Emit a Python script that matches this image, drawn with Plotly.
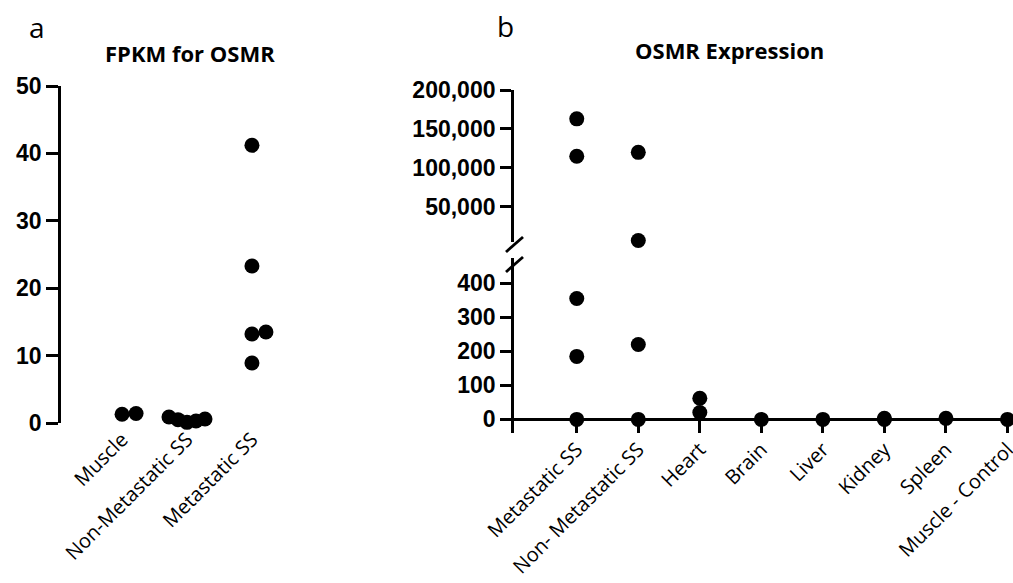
import plotly.graph_objects as go

# ---------------- data ----------------
a_categories = ["Muscle", "Non-Metastatic SS", "Metastatic SS"]
a_muscle = [1.3, 1.4]
a_nonmet = [0.1, 0.3, 0.5, 0.6, 0.9]
a_met = [41.2, 23.3, 13.5, 13.2, 8.9]
a_ticks = [0, 10, 20, 30, 40, 50]

b_categories = ["Metastatic SS", "Non- Metastatic SS", "Heart", "Brain",
                "Liver", "Kidney", "Spleen", "Muscle - Control"]
b_values = [
    [163000, 115000, 355, 185, 0],
    [120000, 7000, 220, 0],
    [62, 20],
    [0],
    [0],
    [3, 0],
    [3],
    [0],
]
b_lower_ticks = [0, 100, 200, 300, 400]
b_upper_ticks = [50000, 100000, 150000, 200000]
b_break = 1000  # values above go to upper segment

# ---------------- helpers ----------------
W, H = 1013, 583


def px(x):
    return x / W


def py(y):
    return 1 - y / H


def swarm(values, ypx_per_unit, xpx_per_unit, d):
    placed = []
    offs = [0.0] * len(values)
    order = sorted(range(len(values)), key=lambda i: values[i])
    cands = [0.0]
    for k in range(1, 200):
        cands += [k * 0.5, -k * 0.5]
    for i in order:
        y = values[i] * ypx_per_unit
        for c in cands:
            if all((c - qx) ** 2 + (y - qy) ** 2 >= d * d for qx, qy in placed):
                placed.append((c, y))
                offs[i] = c / xpx_per_unit
                break
    return offs


BLACK = "black"
TICKFONT = dict(family="Liberation Sans", size=23, color=BLACK, weight="bold")
CATFONT = dict(family="Open Sans", size=20, color=BLACK)
MSIZE = 15

fig = go.Figure()

# ---------------- panel a ----------------
a_y_top, a_y_bot = 86, 423
a_x_left, a_x_right = 61, 300
a_xrange = [-0.94, 2.74]
ypu = (a_y_bot - a_y_top) / 50.0
xpu = (a_x_right - a_x_left) / (a_xrange[1] - a_xrange[0])

for idx, vals in enumerate([a_muscle, a_nonmet, a_met]):
    offs = swarm(vals, ypu, xpu, d=9 if idx == 1 else 14)
    fig.add_trace(go.Scatter(
        x=[idx + o for o in offs], y=vals, mode="markers",
        marker=dict(size=MSIZE, color=BLACK), cliponaxis=False,
        xaxis="x", yaxis="y", showlegend=False, hoverinfo="skip"))

# ---------------- panel b ----------------
for idx, vals in enumerate(b_values):
    lo = [v for v in vals if v < b_break]
    hi = [v for v in vals if v >= b_break]
    if lo:
        fig.add_trace(go.Scatter(
            x=[idx] * len(lo), y=lo, mode="markers",
            marker=dict(size=MSIZE, color=BLACK), cliponaxis=False,
            xaxis="x2", yaxis="y2", showlegend=False, hoverinfo="skip"))
    if hi:
        fig.add_trace(go.Scatter(
            x=[idx] * len(hi), y=hi, mode="markers",
            marker=dict(size=MSIZE, color=BLACK), cliponaxis=False,
            xaxis="x3", yaxis="y3", showlegend=False, hoverinfo="skip"))

b_x_left = 514
b_xrange = [-1.02, 7.09]
lower_top, lower_bot = 258, 433
upper_top, upper_bot = 90, 242

axis_common = dict(showgrid=False, zeroline=False, color=BLACK,
                   automargin=False)
LW = 2.8

fig.update_layout(
    width=W, height=H,
    margin=dict(l=0, r=0, t=0, b=0, autoexpand=False),
    paper_bgcolor="white", plot_bgcolor="white",
    showlegend=False,
    xaxis=dict(
        domain=[px(a_x_left), px(a_x_right)], range=a_xrange,
        anchor="y", showline=False, ticks="",
        tickvals=[0, 1, 2], ticktext=a_categories, tickangle=-45,
        tickfont=CATFONT, ticklabeloverflow="allow", **axis_common),
    yaxis=dict(
        domain=[py(a_y_bot), py(a_y_top)], range=[0, 50],
        anchor="x", showline=True, linewidth=LW, linecolor=BLACK,
        ticks="outside", ticklen=12, tickwidth=LW, tickcolor=BLACK,
        tickvals=a_ticks, tickfont=TICKFONT, **axis_common),
    xaxis2=dict(
        domain=[px(b_x_left), 1.0], range=b_xrange,
        anchor="y2", showline=False, ticks="inside", ticklen=14,
        tickwidth=LW, tickcolor=BLACK,
        tickvals=list(range(len(b_categories))), ticktext=b_categories,
        tickangle=-45, tickfont=CATFONT, ticklabeloverflow="allow",
        **axis_common),
    yaxis2=dict(
        domain=[py(lower_bot), py(lower_top)], range=[-40, 474],
        anchor="x2", showline=True, linewidth=LW, linecolor=BLACK,
        ticks="outside", ticklen=11, tickwidth=LW, tickcolor=BLACK,
        tickvals=b_lower_ticks, tickfont=TICKFONT,
        showgrid=False, zeroline=True, zerolinecolor=BLACK,
        zerolinewidth=LW, color=BLACK, automargin=False),
    xaxis3=dict(
        domain=[px(b_x_left), 1.0], range=b_xrange, anchor="y3",
        visible=False, automargin=False),
    yaxis3=dict(
        domain=[py(upper_bot), py(upper_top)], range=[5000, 200000],
        anchor="x3", showline=True, linewidth=LW, linecolor=BLACK,
        ticks="outside", ticklen=11, tickwidth=LW, tickcolor=BLACK,
        tickvals=b_upper_ticks, tickformat=",d", tickfont=TICKFONT,
        **axis_common),
)

# axis break marks
for (x0, y0, x1, y1) in [(506, 252, 523, 237), (506, 272, 523, 257)]:
    fig.add_shape(type="line", xref="paper", yref="paper",
                  x0=px(x0), y0=py(y0), x1=px(x1), y1=py(y1),
                  line=dict(color=BLACK, width=LW))

# titles / panel letters
TITLEFONT = dict(family="Open Sans", size=22, color=BLACK, weight="bold")
LETTERFONT = dict(family="Open Sans", size=28, color=BLACK)
for text, x, y, font, xa in [("FPKM for OSMR", 103, 53, TITLEFONT, "left"),
                             ("OSMR Expression", 633, 50, TITLEFONT, "left"),
                             ("a", 37, 27, LETTERFONT, "center"),
                             ("b", 505, 26, LETTERFONT, "center")]:
    fig.add_annotation(text=text, x=px(x), y=py(y), xref="paper",
                       yref="paper", showarrow=False, font=font,
                       xanchor=xa, yanchor="middle")

fig.write_html("out.html",
               config={"displayModeBar": False},
               post_script="document.body.style.margin='0';")
